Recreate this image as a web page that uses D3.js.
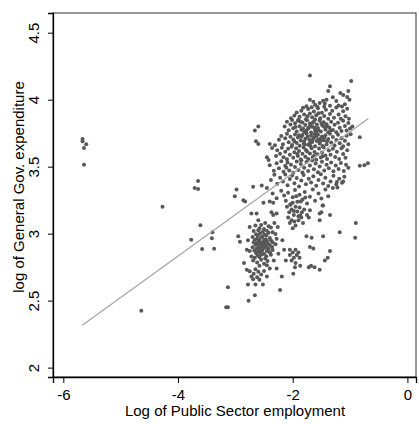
<!DOCTYPE html>
<html><head><meta charset="utf-8">
<script src="https://cdn.jsdelivr.net/npm/d3@7"></script>
<style>body{margin:0;background:#fff}svg{display:block}text{font-family:"Liberation Sans",Arial,sans-serif}</style>
</head><body>
<script>
// ---- data ----
const xTicks = [-6, -4, -2, 0];
const yTicks = [2, 2.5, 3, 3.5, 4, 4.5];
const xTitle = "Log of Public Sector employment";
const yTitle = "log of General Gov. expenditure";
const fitX = [-5.67, -0.68];
const fitY = [2.317, 3.86];
const outliers = [[-5.665,3.707],[-5.665,3.69],[-5.60,3.667],[-5.64,3.64],[-5.64,3.515],
  [-4.27,3.20],[-3.65,3.393],[-3.71,3.34],[-3.65,3.333],[-3.61,3.063],[-3.77,2.955],[-3.58,2.886],
  [-3.40,3.01],[-3.41,2.966],[-3.37,2.888],[-4.64,2.425],[-3.16,2.45],[-3.13,2.45],[-3.13,2.60]];
const upperCluster = [
 [-1.70,4.18],[-0.98,4.14],[-1.35,4.10],[-1.38,4.065],[-1.03,4.065],
 [-1.70,4.00],[-1.64,3.985],[-1.61,3.962],[-1.76,3.951],[-1.82,3.94],[-1.67,3.943],[-1.41,4.00],[-1.44,3.972],
 [-1.17,4.05],[-1.12,4.035],[-1.05,4.02],[-1.01,4.00],[-1.30,4.018],[-1.53,3.975],[-1.24,3.99],[-1.09,3.965],
 [-1.35,3.955],[-1.57,3.948],[-1.20,3.957],[-1.47,3.992],
 [-2.03,3.862],[-1.97,3.881],[-1.93,3.905],[-1.88,3.872],[-1.85,3.918],[-1.80,3.889],[-1.77,3.853],[-1.73,3.931],
 [-1.70,3.897],[-1.66,3.868],[-1.63,3.912],[-1.59,3.884],[-1.56,3.936],[-1.52,3.861],[-1.49,3.903],[-1.45,3.878],
 [-1.42,3.925],[-1.38,3.857],[-1.35,3.894],[-1.31,3.918],[-1.28,3.866],[-1.24,3.941],[-1.20,3.889],[-1.16,3.858],
 [-1.12,3.913],[-1.08,3.876],[-1.05,3.933],[-1.02,3.858],[-1.90,3.851],[-1.61,3.852],[-1.45,3.947],[-1.14,3.95],
 [-1.74,3.876],[-1.55,3.898],
 [-2.14,3.80],[-2.10,3.835],[-2.07,3.772],[-2.04,3.815],[-2.01,3.848],[-1.99,3.786],[-1.96,3.824],[-1.93,3.763],
 [-1.91,3.842],[-1.88,3.801],[-1.85,3.776],[-1.83,3.829],[-1.80,3.758],[-1.78,3.811],[-1.75,3.846],[-1.73,3.784],
 [-1.70,3.822],[-1.68,3.755],[-1.66,3.798],[-1.63,3.838],[-1.61,3.771],[-1.58,3.815],[-1.56,3.789],[-1.53,3.844],
 [-1.51,3.762],[-1.48,3.806],[-1.46,3.831],[-1.43,3.778],[-1.41,3.817],[-1.38,3.756],[-1.36,3.793],[-1.33,3.836],
 [-1.30,3.774],[-1.27,3.812],[-1.24,3.757],[-1.21,3.828],[-1.18,3.79],[-1.15,3.767],[-1.12,3.842],[-1.09,3.803],
 [-1.06,3.77],[-1.03,3.826],[-1.00,3.785],[-0.96,3.80],[-2.60,3.80],[-2.66,3.77],[-1.87,3.838],[-1.72,3.792],
 [-1.59,3.758],[-1.44,3.797],[-1.95,3.797],[-1.65,3.827],
 [-1.82,3.785],[-1.76,3.770],[-1.69,3.805],[-1.62,3.790],[-1.55,3.770],[-1.50,3.820],[-1.40,3.800],[-1.34,3.770],
 [-2.24,3.70],[-2.20,3.728],[-2.17,3.668],[-2.13,3.712],[-2.10,3.745],[-2.07,3.683],[-2.04,3.724],[-2.01,3.661],
 [-1.99,3.703],[-1.96,3.741],[-1.93,3.676],[-1.91,3.718],[-1.88,3.656],[-1.86,3.695],[-1.83,3.737],[-1.81,3.671],
 [-1.78,3.709],[-1.76,3.748],[-1.73,3.664],[-1.71,3.701],[-1.68,3.731],[-1.66,3.684],[-1.63,3.716],[-1.61,3.652],
 [-1.58,3.692],[-1.56,3.739],[-1.53,3.672],[-1.51,3.711],[-1.48,3.654],[-1.46,3.697],[-1.43,3.734],[-1.41,3.668],
 [-1.38,3.707],[-1.35,3.745],[-1.33,3.681],[-1.30,3.722],[-1.27,3.658],[-1.24,3.699],[-1.21,3.738],[-1.18,3.674],
 [-1.15,3.713],[-1.12,3.652],[-1.09,3.693],[-1.06,3.731],[-1.03,3.667],[-0.99,3.742],[-0.83,3.72],[-2.64,3.69],
 [-2.60,3.67],[-2.40,3.67],[-2.31,3.66],[-1.85,3.724],[-1.70,3.676],[-1.55,3.703],[-1.40,3.69],[-1.97,3.688],
 [-1.62,3.744],[-1.80,3.688],[-1.49,3.726],
 [-1.89,3.735],[-1.74,3.725],[-1.65,3.700],[-1.59,3.725],[-1.52,3.690],[-1.45,3.715],[-1.79,3.665],[-1.69,3.655],
 [-2.36,3.64],[-2.29,3.58],[-2.27,3.622],[-2.22,3.596],[-2.19,3.641],[-2.16,3.571],[-2.13,3.612],[-2.10,3.556],
 [-2.08,3.633],[-2.05,3.589],[-2.02,3.648],[-1.99,3.566],[-1.97,3.608],[-1.94,3.637],[-1.91,3.579],[-1.89,3.617],
 [-1.86,3.553],[-1.83,3.596],[-1.81,3.643],[-1.78,3.574],[-1.75,3.614],[-1.73,3.557],[-1.70,3.598],[-1.67,3.638],
 [-1.65,3.571],[-1.62,3.609],[-1.59,3.552],[-1.57,3.592],[-1.54,3.635],[-1.51,3.568],[-1.49,3.606],[-1.46,3.645],
 [-1.43,3.583],[-1.40,3.557],[-1.37,3.621],[-1.34,3.589],[-1.30,3.634],[-1.26,3.572],[-1.23,3.611],[-1.19,3.558],
 [-1.15,3.637],[-1.12,3.595],[-1.08,3.566],[-1.05,3.622],[-2.45,3.57],[-2.42,3.55],[-1.77,3.625],[-1.63,3.58],
 [-1.92,3.595],[-1.48,3.578],
 [-2.40,3.51],[-2.33,3.47],[-2.28,3.525],[-2.24,3.488],[-2.20,3.541],[-2.16,3.462],[-2.13,3.507],[-2.09,3.532],
 [-2.06,3.471],[-2.03,3.515],[-1.99,3.455],[-1.96,3.498],[-1.93,3.538],[-1.90,3.476],[-1.86,3.519],[-1.83,3.457],
 [-1.80,3.492],[-1.76,3.534],[-1.73,3.468],[-1.70,3.509],[-1.66,3.546],[-1.63,3.481],[-1.60,3.523],[-1.56,3.459],
 [-1.53,3.501],[-1.49,3.537],[-1.45,3.472],[-1.41,3.515],[-1.37,3.488],[-1.33,3.531],[-1.29,3.465],[-1.25,3.508],
 [-1.20,3.482],[-1.16,3.527],[-1.11,3.468],[-1.07,3.515],[-1.03,3.492],[-0.69,3.525],[-0.75,3.51],[-0.83,3.507],
 [-1.85,3.547],[-2.11,3.492],
 [-2.38,3.40],[-2.32,3.44],[-2.27,3.372],[-2.22,3.418],[-2.17,3.39],[-2.13,3.441],[-2.09,3.361],[-2.05,3.408],
 [-2.01,3.434],[-1.97,3.377],[-1.93,3.415],[-1.89,3.352],[-1.85,3.396],[-1.81,3.438],[-1.77,3.368],[-1.72,3.41],
 [-1.68,3.382],[-1.64,3.429],[-1.59,3.357],[-1.55,3.401],[-1.51,3.444],[-1.47,3.374],[-1.43,3.418],[-1.38,3.355],
 [-1.34,3.39],[-1.29,3.432],[-1.24,3.366],[-1.19,3.409],[-1.14,3.38],[-1.10,3.425],[-2.54,3.36],[-2.69,3.35],
 [-2.45,3.34],[-1.23,3.385],[-1.12,3.39]
];
const middleCluster = [
 [-2.98,3.33],[-3.01,3.28],[-2.86,3.25],[-2.83,3.24],[-2.40,3.24],[-2.51,3.23],[-2.34,3.23],[-2.35,3.30],
 [-2.28,3.265],[-2.20,3.32],[-2.15,3.285],[-2.12,3.245],[-2.08,3.305],[-2.04,3.22],[-2.00,3.272],[-1.96,3.325],
 [-1.92,3.238],[-1.88,3.29],[-1.83,3.255],[-1.79,3.31],[-1.75,3.225],[-1.70,3.275],[-1.65,3.33],[-1.61,3.245],
 [-1.55,3.30],[-1.50,3.262],[-1.47,3.21],[-1.43,3.33],[-1.38,3.28],[-1.30,3.34],[-1.22,3.345],
 [-2.00,3.230],[-1.94,3.280],[-1.86,3.240],[-1.78,3.270],[-2.10,3.200],[-1.98,3.170],[-1.90,3.130],[-1.84,3.160],
 [-2.72,3.15],[-2.63,3.15],[-2.37,3.16],[-2.34,3.14],[-2.28,3.15],[-2.06,3.16],[-2.02,3.18],[-1.98,3.14],
 [-1.95,3.20],[-1.92,3.165],[-1.88,3.195],[-1.85,3.12],[-1.80,3.18],[-1.75,3.14],[-1.72,3.12],[-1.70,3.175],
 [-2.08,3.12],[-2.04,3.215],[-1.53,3.15],[-1.50,3.16],[-1.48,3.21],[-1.35,3.14],[-2.02,3.10],[-1.90,3.10],
 [-1.53,3.10],[-2.05,3.08],[-1.82,3.08],[-1.95,3.06],[-2.00,3.04],[-1.87,3.135],[-1.97,3.09],
 [-2.05,2.88],[-1.95,2.88],[-2.00,2.86],[-1.90,2.86],[-2.05,2.84],[-1.93,2.84],[-1.98,2.82],[-1.88,2.82],
 [-2.02,2.80],[-1.95,2.78],[-1.87,2.76],[-1.96,2.75],[-1.99,2.70],[-1.76,2.98],[-1.67,2.97],[-1.70,2.90],
 [-1.64,2.89],[-1.68,2.76],[-1.72,2.75],[-1.62,2.75],[-1.53,2.73],[-1.47,2.98],[-1.35,2.87],[-1.39,2.82],
 [-1.44,2.80],[-1.18,3.01],[-0.91,2.97],[-0.90,3.08]
];
const lowerCluster = [
 [-2.60,3.10],[-2.48,3.08],[-2.65,3.06],[-2.55,3.065],[-2.42,3.055],[-2.58,3.04],[-2.50,3.035],[-2.38,3.045],
 [-2.68,3.02],[-2.60,3.025],[-2.52,3.015],[-2.45,3.022],[-2.35,3.01],[-2.64,2.995],[-2.57,3.003],[-2.49,2.992],
 [-2.42,3.006],[-2.30,2.998],[-2.61,2.985],[-2.53,2.978],[-2.46,2.988],[-2.95,2.98],[-2.70,2.975],[-2.62,2.962],
 [-2.55,2.971],[-2.47,2.958],[-2.40,2.968],[-2.58,2.948],[-2.50,2.952],[-2.66,2.955],[-2.59,2.94],[-2.52,2.935],
 [-2.45,2.945],[-2.38,2.95],[-2.28,2.962],[-2.62,2.93],[-2.55,2.925],[-2.48,2.918],[-2.92,2.94],[-2.68,2.935],
 [-2.61,2.915],[-2.55,2.905],[-2.50,2.94],[-2.43,2.925],[-2.35,2.935],[-2.59,2.928],[-2.52,2.91],[-2.65,2.918],
 [-2.58,2.895],[-2.52,2.905],[-2.46,2.90],[-2.40,2.915],[-2.30,2.92],[-2.70,2.898],[-2.63,2.888],[-2.56,2.882],
 [-2.49,2.895],[-2.42,2.888],[-2.36,2.90],[-2.80,2.88],[-2.67,2.875],[-2.60,2.868],[-2.53,2.877],[-2.45,2.87],
 [-2.35,2.878],[-2.75,2.87],[-2.64,2.855],[-2.57,2.86],[-2.50,2.85],[-2.40,2.862],[-2.61,2.838],[-2.54,2.845],
 [-2.46,2.832],[-2.38,2.842],[-2.72,2.83],[-2.66,2.82],[-2.58,2.825],[-2.48,2.815],[-2.69,2.80],[-2.55,2.805],
 [-2.44,2.795],[-2.62,2.785],[-2.50,2.775],[-2.58,2.76],[-2.45,2.765],[-2.80,2.73],[-2.65,2.735],[-2.75,2.72],
 [-2.60,2.715],[-2.50,2.722],[-2.68,2.70],[-2.55,2.695],[-2.72,2.68],[-2.62,2.675],[-2.69,2.66],[-2.58,2.655],
 [-2.65,2.62],[-2.22,2.58],[-2.66,2.54],[-2.77,2.50],[-2.19,2.68],
 [-2.85,2.78],[-2.78,2.95],[-2.33,2.80],[-2.28,2.74],[-2.25,2.85],[-2.32,3.08],[-2.26,3.05],[-2.18,2.95],
 [-2.15,2.88],[-2.12,2.80],[-2.75,3.05],[-2.78,2.62],[-2.52,2.62],[-2.45,2.68],[-2.40,2.74]
];

// ---- chart ----
const W = 419, H = 424;
const x = d3.scaleLinear().domain([-6.18, 0.15]).range([53, 416]);
const y = d3.scaleLinear().domain([1.93, 4.647]).range([377, 13]);

const points = outliers.concat(upperCluster, middleCluster, lowerCluster);

const svg = d3.select("body").append("svg").attr("width", W).attr("height", H);
svg.append("rect").attr("width", W).attr("height", H).attr("fill", "#fff");

svg.append("rect").attr("x", 53).attr("y", 13).attr("width", 363).attr("height", 364)
  .attr("fill", "none").attr("stroke", "#333").attr("stroke-width", 1);

svg.append("g").selectAll("circle").data(points).join("circle")
  .attr("cx", d => x(d[0])).attr("cy", d => y(d[1])).attr("r", 2)
  .attr("fill", "#585858");

svg.append("line")
  .attr("x1", x(fitX[0])).attr("y1", y(fitY[0]))
  .attr("x2", x(fitX[1])).attr("y2", y(fitY[1]))
  .attr("stroke", "#a6a6a6").attr("stroke-width", 1.3);

const xa = svg.append("g").attr("transform", "translate(0,377)")
  .call(d3.axisBottom(x).tickValues(xTicks).tickSize(6).tickPadding(6));
xa.select(".domain").attr("stroke", "#000").attr("stroke-width", 1.3);
xa.selectAll(".tick line").attr("stroke", "#000");
xa.selectAll("text").attr("font-size", 15).attr("fill", "#000")
  .attr("font-family", "Liberation Sans, Arial, sans-serif")
  .text(d => d < 0 ? "-" + Math.abs(d) : d);

const ya = svg.append("g").attr("transform", "translate(53,0)")
  .call(d3.axisLeft(y).tickValues(yTicks).tickSize(5).tickFormat(d => String(d)));
ya.select(".domain").attr("stroke", "#000").attr("stroke-width", 1.3);
ya.selectAll(".tick line").attr("stroke", "#000");
ya.selectAll(".tick text")
  .attr("x", null).attr("dy", null)
  .attr("transform", "translate(-14,0) rotate(-90)")
  .attr("text-anchor", "middle").attr("y", 0)
  .attr("font-size", 15).attr("fill", "#000")
  .attr("font-family", "Liberation Sans, Arial, sans-serif");

svg.append("text").attr("x", 235).attr("y", 416).attr("text-anchor", "middle")
  .attr("font-size", 15).attr("fill", "#000").text(xTitle);
svg.append("text").attr("transform", "translate(24,187) rotate(-90)")
  .attr("text-anchor", "middle").attr("font-size", 15).attr("fill", "#000").text(yTitle);
</script>
</body></html>
